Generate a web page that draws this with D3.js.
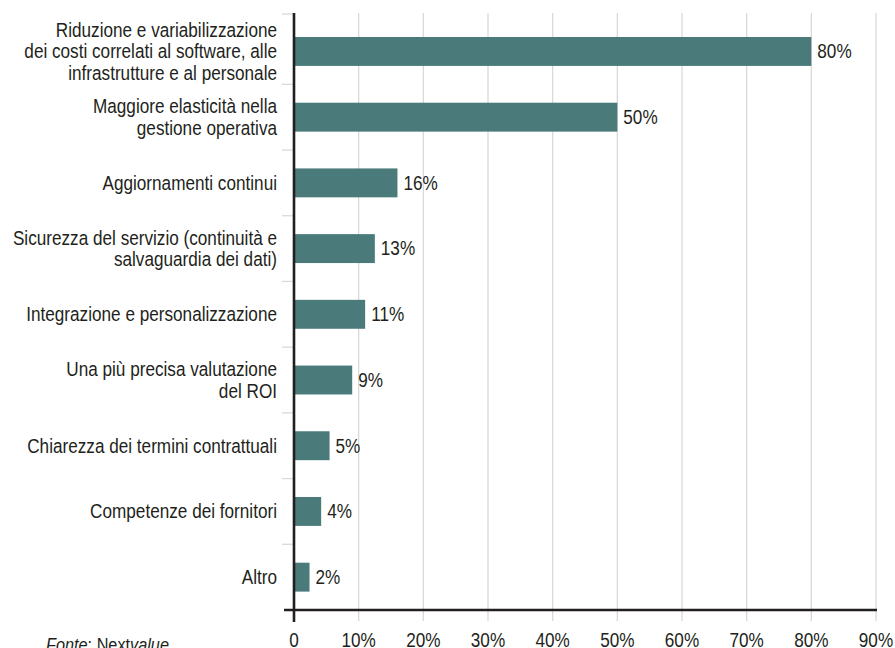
<!DOCTYPE html>
<html><head><meta charset="utf-8">
<script src="https://cdn.jsdelivr.net/npm/d3@7"></script>
<style>
html,body{margin:0;padding:0;background:#fff;}
svg{display:block;font-family:"Liberation Sans",Arial,sans-serif;}
</style></head>
<body><svg id="c" width="895" height="648"></svg>
<script>
const categories = [
  ["Riduzione e variabilizzazione","dei costi correlati al software, alle","infrastrutture e al personale"],
  ["Maggiore elasticità nella","gestione operativa"],
  ["Aggiornamenti continui"],
  ["Sicurezza del servizio (continuità e","salvaguardia dei dati)"],
  ["Integrazione e personalizzazione"],
  ["Una più precisa valutazione","del ROI"],
  ["Chiarezza dei termini contrattuali"],
  ["Competenze dei fornitori"],
  ["Altro"]
];
const values = [80, 50, 16, 12.5, 11, 9, 5.5, 4.2, 2.4];
const valueLabels = ["80%","50%","16%","13%","11%","9%","5%","4%","2%"];
const xTicks = [0,10,20,30,40,50,60,70,80,90];
const xTickLabels = ["0","10%","20%","30%","40%","50%","60%","70%","80%","90%"];

const svg = d3.select("#c");
const ink = "#231f20", barColor = "#4a7a79", gridColor = "#d9d9d9";
const FS = 19.5, SX = 0.88;
const x = d3.scaleLinear().domain([0,90]).range([294,876]);
const idx = categories.map((d,i)=>i);
const y = d3.scaleBand().domain(idx).range([18.6,610]).paddingInner(0.56).paddingOuter(0.28);
const step = y.step();
const tf = (tx,ty)=>`translate(${tx},${ty}) scale(${SX},1)`;

// gridlines
svg.append("g").selectAll("line").data(xTicks.slice(1)).join("line")
  .attr("x1",d=>x(d)).attr("x2",d=>x(d)).attr("y1",13).attr("y2",621)
  .attr("stroke",gridColor).attr("stroke-width",1.3);

// category boundary ticks
svg.append("g").selectAll("line").data(idx).join("line")
  .attr("x1",282).attr("x2",294)
  .attr("y1",i=> i===0 ? 14 : 18.6 + i*step).attr("y2",i=> i===0 ? 14 : 18.6 + i*step)
  .attr("stroke",gridColor).attr("stroke-width",1.3);

// bars
svg.append("g").selectAll("rect").data(values).join("rect")
  .attr("x",x(0)).attr("y",(d,i)=>y(i)).attr("width",d=>x(d)-x(0)).attr("height",y.bandwidth())
  .attr("fill",barColor);

// value labels
svg.append("g").selectAll("text").data(values).join("text")
  .attr("transform",(d,i)=>tf(x(d)+6, y(i)+y.bandwidth()/2)).attr("dy","0.35em")
  .attr("font-size",FS).attr("fill",ink).text((d,i)=>valueLabels[i]);

// category labels
const lh = 21.5;
svg.append("g").selectAll("text").data(categories).join("text")
  .attr("text-anchor","end").attr("font-size",FS).attr("fill",ink)
  .attr("transform",(lines,i)=>tf(277, y(i)+y.bandwidth()/2))
  .each(function(lines,i){
    const t = d3.select(this);
    lines.forEach((l,k)=>{
      t.append("tspan").attr("x",0)
        .attr("y",(k-(lines.length-1)/2)*lh).attr("dy","0.35em").text(l);
    });
  });

// axes lines
svg.append("line").attr("x1",294).attr("x2",294).attr("y1",13).attr("y2",622)
  .attr("stroke",ink).attr("stroke-width",2.6);
svg.append("line").attr("x1",284).attr("x2",877).attr("y1",610).attr("y2",610)
  .attr("stroke",ink).attr("stroke-width",2.6);

// x tick labels
svg.append("g").selectAll("text").data(xTicks).join("text")
  .attr("transform",d=>tf(x(d),646.5)).attr("text-anchor","middle")
  .attr("font-size",FS).attr("fill",ink).text((d,i)=>xTickLabels[i]);

// source
const src = svg.append("text").attr("transform",tf(46,651)).attr("font-size",18.5).attr("fill",ink);
src.append("tspan").attr("font-style","italic").text("Fonte");
src.append("tspan").text(": Next");
src.append("tspan").attr("font-style","italic").text("value");
</script></body></html>
